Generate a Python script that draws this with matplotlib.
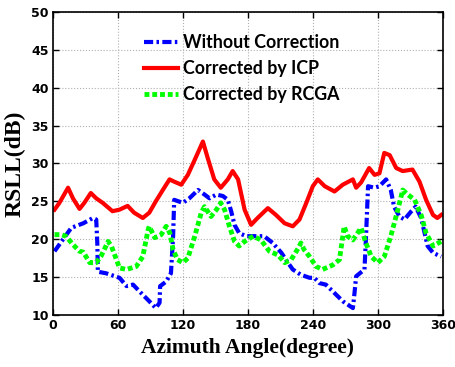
import matplotlib
matplotlib.use("Agg")
import matplotlib.pyplot as plt
import numpy as np

# azimuth (deg) / RSLL (dB)
az_raw = [1.5, 9, 17, 28, 37, 40, 41, 41.5, 49, 61.5, 68, 74, 80, 89, 95, 98.5, 99, 104.6, 109, 111,
          112, 120, 126, 134, 140, 144.6, 151, 157, 161.5, 164.6, 167.7, 172, 178.5, 186, 195, 203,
          211, 217, 221.5, 229, 237, 241.5, 246, 252, 258.5, 267.7, 277, 278.5, 280, 287.7, 289,
          291, 297, 301.5, 307.7, 312, 315, 320, 324.6, 331, 335, 340, 346, 351, 358.5]
rsll_raw = [18.4, 19.9, 21.5, 22.1, 22.8, 22.6, 19.5, 15.7, 15.5, 14.9, 13.8, 14.0, 13.1, 11.8, 10.9,
            11.6, 13.8, 14.4, 15.5, 20.4, 25.2, 24.8, 25.4, 26.5, 25.9, 25.4, 25.9, 25.7, 25.2, 23.7,
            21.9, 20.8, 20.4, 20.4, 20.4, 19.5, 18.2, 16.9, 16.0, 15.3, 14.9, 14.9, 14.2, 14.0, 13.1,
            11.8, 10.9, 12.9, 15.1, 16.0, 19.9, 27.0, 26.8, 27.0, 27.9, 26.5, 24.3, 23.0, 22.6, 23.7,
            24.3, 22.8, 19.1, 18.2, 17.7]

az_icp = [1.5, 6, 14, 18.5, 24.6, 29, 35, 40, 46, 55, 61.5, 69, 75, 83, 89, 95, 101.5, 107.7, 112,
          118.5, 124.6, 131, 138.5, 143, 149, 155, 161.5, 166, 171, 177, 183, 189, 198.5, 206, 214,
          221.5, 227.7, 234, 240, 244.6, 251, 260, 267.7, 277, 280, 284.6, 292, 297, 301.5, 306,
          311, 317, 323, 332, 338.5, 344.6, 351, 355, 358.5]
rsll_icp = [23.9, 24.8, 26.8, 25.4, 24.0, 24.8, 26.1, 25.4, 24.8, 23.7, 23.9, 24.4, 23.5, 22.8, 23.5,
            25.0, 26.5, 27.9, 27.6, 27.2, 28.5, 30.5, 32.9, 30.7, 27.9, 26.8, 27.9, 29.0, 27.9, 23.9,
            21.9, 22.8, 24.1, 23.2, 22.1, 21.7, 22.6, 24.8, 27.0, 27.9, 27.0, 26.3, 27.2, 27.9, 26.8,
            27.5, 29.4, 28.5, 28.7, 31.4, 31.1, 29.4, 29.0, 29.2, 27.6, 25.2, 23.2, 22.8, 23.2]

az_rcga = [1.5, 7.7, 12, 18.5, 24.6, 28, 34, 40, 44.6, 51, 54, 61.5, 68, 77, 83, 88, 89, 94, 100,
           104.6, 108, 111, 115, 120, 124.6, 131, 137, 140, 146, 151, 155, 158.5, 163, 167.7, 172,
           177, 185, 192, 200, 208, 214, 220, 226.5, 229, 232, 237, 243, 249, 258.5, 264.6, 269,
           272, 277, 284.6, 289, 294, 300, 306, 312, 318.5, 323, 327.7, 334, 340, 344.6, 351, 358.5]
rsll_rcga = [20.6, 20.6, 20.4, 19.3, 18.4, 18.3, 16.9, 16.9, 17.8, 19.7, 19.1, 16.2, 16.0, 16.4, 17.7,
             21.3, 21.7, 20.2, 20.6, 21.7, 20.8, 18.6, 17.3, 16.9, 17.5, 20.4, 23.5, 24.3, 23.0, 23.9,
             24.8, 23.9, 21.7, 19.7, 19.1, 19.7, 20.4, 19.9, 18.4, 17.9, 16.9, 17.3, 18.8, 19.5, 18.6,
             17.7, 16.4, 16.0, 16.6, 17.3, 21.7, 20.4, 19.9, 21.5, 19.5, 17.7, 16.9, 17.7, 20.4, 23.9,
             26.5, 25.9, 25.2, 23.2, 20.8, 19.1, 19.7]

x_ticks = [0, 60, 120, 180, 240, 300, 360]
y_ticks = [10, 15, 20, 25, 30, 35, 40, 45, 50]

fig = plt.figure(figsize=(4.56, 3.67), dpi=100)
ax = fig.add_axes([0.116, 0.142, 0.855, 0.825])

ax.plot(az_raw, rsll_raw, color="#0000ff", lw=3, linestyle=(0, (2.2, 0.8, 0.6, 0.8)),
        label="Without Correction")
ax.plot(az_icp, rsll_icp, color="#ff0000", lw=3, label="Corrected by ICP")
ax.plot(az_rcga, rsll_rcga, color="#00ff00", lw=3.5, linestyle=(0, (1, 0.6)),
        label="Corrected by RCGA")

ax.set_xlim(0, 360)
ax.set_ylim(10, 50)
ax.set_xticks(x_ticks)
ax.set_yticks(y_ticks)
ax.grid(True, color="#b0b0b0", linestyle=":", linewidth=0.8)
ax.tick_params(direction="in", top=True, right=True, length=4, width=1, pad=3)
for lab in ax.get_xticklabels() + ax.get_yticklabels():
    lab.set_family("DejaVu Sans")
    lab.set_fontweight("bold")
    lab.set_fontsize(9)
for s in ax.spines.values():
    s.set_linewidth(1.2)

ax.set_xlabel("Azimuth Angle(degree)", family="Liberation Serif", fontweight="bold",
              fontsize=15.5, labelpad=4)
ax.set_ylabel("RSLL(dB)", family="Liberation Serif", fontweight="bold",
              fontsize=17, labelpad=4)

leg = ax.legend(loc="upper left", bbox_to_anchor=(0.215, 0.952), frameon=False,
                prop={"family": "Lato", "weight": "bold", "size": 12.8},
                handlelength=1.9, handletextpad=0.3, labelspacing=0.52, borderaxespad=0)

fig.savefig("out.png", dpi=100)
